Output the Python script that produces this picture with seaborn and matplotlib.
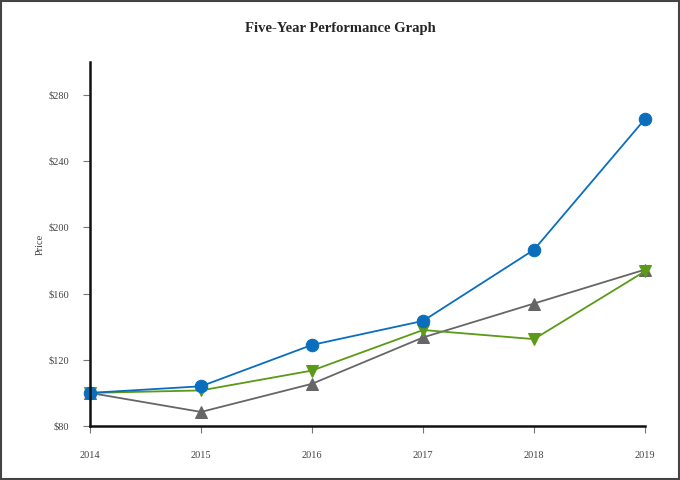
import pandas as pd
import matplotlib.pyplot as plt
import seaborn as sns
from matplotlib.patches import Rectangle

years = [2014, 2015, 2016, 2017, 2018, 2019]
company = [100, 104, 129, 143.5, 186.5, 265.5]
index_a = [100, 101.5, 113.5, 138, 132.5, 173.5]
index_b = [100, 88.5, 105.5, 133.5, 154, 174.5]
y_ticks = [80, 120, 160, 200, 240, 280]

# drawn back to front: gray, green, blue
series_names = ['Index B', 'Index A', 'Company']
series_colors = ['#666666', '#5A9A16', '#0A6EBD']
series_markers = ['^', 'v', 'o']

df = pd.DataFrame({'Year': years, 'Company': company, 'Index A': index_a, 'Index B': index_b})
long_df = df.melt(id_vars='Year', var_name='Series', value_name='Price')

sns.set_style('white')
plt.rcParams['font.family'] = ['Liberation Serif', 'DejaVu Serif']

fig = plt.figure(figsize=(6.8, 4.8), dpi=100)
ax = fig.add_axes([0.1324, 0.1125, 0.8161, 0.7585])

for name, color, marker in zip(series_names, series_colors, series_markers):
    sub = long_df[long_df['Series'] == name]
    sns.lineplot(data=sub, x='Year', y='Price', ax=ax, color=color, marker=marker,
                 markersize=9, markeredgecolor=color, linewidth=1.3, clip_on=False)

ax.set_xlim(2014, 2019)
ax.set_ylim(80, 300)
ax.set_xticks(years)
ax.set_xticklabels([str(y) for y in years])
ax.set_yticks(y_ticks)
ax.set_yticklabels([f'${v}' for v in y_ticks])
ax.tick_params(axis='both', which='major', labelsize=7.5, labelcolor='#444444',
               color='#777777', length=5, width=0.8, direction='out',
               bottom=True, left=True)
ax.tick_params(axis='x', pad=13)
ax.tick_params(axis='y', pad=10)
for side in ['top', 'right']:
    ax.spines[side].set_visible(False)
for side in ['left', 'bottom']:
    ax.spines[side].set_color('#111111')
    ax.spines[side].set_linewidth(1.8)
ax.set_xlabel('')
ax.set_ylabel('Price', fontsize=7.5, color='#444444', labelpad=3)
ax.grid(False)

fig.suptitle('Five-Year Performance Graph', fontsize=10.5, fontweight='bold', y=0.955)
fig.patches.append(Rectangle((0.002, 0.002), 0.996, 0.996, transform=fig.transFigure,
                             fill=False, edgecolor='#444444', linewidth=1.5))

fig.savefig('out.png', dpi=100)
